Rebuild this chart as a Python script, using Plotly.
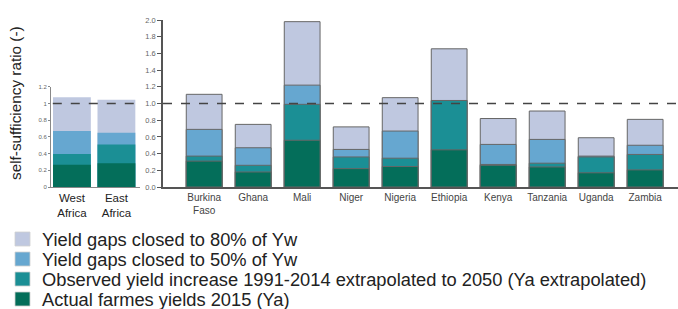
import plotly.graph_objects as go

# Regions (left panel)
regions = ["West<br>Africa", "East<br>Africa"]
reg_ya = [0.265, 0.285]
reg_ext = [0.395, 0.51]
reg_50 = [0.67, 0.65]
reg_80 = [1.075, 1.045]

# Countries (right panel)
countries = ["Burkina<br>Faso", "Ghana", "Mali", "Niger", "Nigeria",
             "Ethiopia", "Kenya", "Tanzania", "Uganda", "Zambia"]
cty_ya = [0.31, 0.18, 0.56, 0.22, 0.245, 0.445, 0.26, 0.24, 0.17, 0.205]
cty_ext = [0.37, 0.26, 0.99, 0.36, 0.345, 1.036, 0.27, 0.285, 0.36, 0.39]
cty_50 = [0.69, 0.47, 1.22, 0.45, 0.67, 1.036, 0.51, 0.57, 0.37, 0.50]
cty_80 = [1.11, 0.75, 1.98, 0.72, 1.07, 1.655, 0.82, 0.91, 0.59, 0.81]

names = ["Yield gaps closed to 80% of Yw",
         "Yield gaps closed to 50% of Yw",
         "Observed yield increase 1991-2014 extrapolated to 2050 (Ya extrapolated)",
         "Actual farmes yields 2015 (Ya)"]
colors = ["#bfc8e0", "#66a7d0", "#1b8f95", "#046e5a"]

fig = go.Figure()
reg_series = [reg_80, reg_50, reg_ext, reg_ya]
cty_series = [cty_80, cty_50, cty_ext, cty_ya]
for name, col, rv, cv in zip(names, colors, reg_series, cty_series):
    fig.add_trace(go.Bar(x=regions, y=rv, name=name, marker=dict(color=col, line=dict(width=0)),
                         width=0.85, xaxis="x", yaxis="y", showlegend=False))
    fig.add_trace(go.Bar(x=countries, y=cv, name=name,
                         marker=dict(color=col, line=dict(color="#666666", width=1)),
                         width=0.73, xaxis="x2", yaxis="y2", showlegend=False))

W, H = 678, 309
T, B = 20, 122
PH = H - T - B


def py(ypix):
    return (H - B - ypix) / PH


shapes = [
    dict(type="line", xref="x domain", yref="y", x0=0.02, x1=1, y0=1, y1=1,
         line=dict(color="#444", width=1.3, dash="dash")),
    dict(type="line", xref="x2 domain", yref="y2", x0=0, x1=1, y0=1, y1=1,
         line=dict(color="#444", width=1.3, dash="dash")),
]
annotations = [dict(text="self-sufficiency ratio (-)", xref="paper", yref="paper",
                    x=15 / W, y=py(103), xanchor="center", yanchor="middle",
                    textangle=-90, showarrow=False, font=dict(size=15.3, color="#222"))]

# manual legend
row_y = [239, 259, 279, 299]
for name, col, ry in zip(names, colors, row_y):
    shapes.append(dict(type="rect", xref="paper", yref="paper",
                       x0=15 / W, x1=30 / W, y0=py(ry + 7), y1=py(ry - 7),
                       fillcolor=col, line=dict(color="#d0d0d0", width=0.8), layer="above"))
    annotations.append(dict(text=name, xref="paper", yref="paper", x=40 / W, y=py(ry),
                            xanchor="left", yanchor="middle", showarrow=False,
                            font=dict(size=18.3, color="#222")))

fig.update_layout(
    width=W, height=H, barmode="overlay", showlegend=False,
    margin=dict(l=0, r=0, t=T, b=B, autoexpand=False),
    paper_bgcolor="white", plot_bgcolor="white",
    font=dict(family="Liberation Sans, Arial, sans-serif", color="#333"),
    xaxis=dict(domain=[51 / W, 140 / W], range=[-0.47, 1.53], showline=True,
               linecolor="#888", linewidth=1, ticks="", tickfont=dict(size=11.5, color="#222"),
               anchor="y", fixedrange=True),
    yaxis=dict(domain=[0, 0.6], range=[0, 1.2], tickvals=[0, 0.2, 0.4, 0.6, 0.8, 1, 1.2],
               ticktext=["0", "0.2", "0.4", "0.6", "0.8", "1", "1.2"],
               showline=True, linecolor="#888", linewidth=1, ticks="outside", ticklen=2,
               tickcolor="#888", tickfont=dict(size=6, color="#666"), showgrid=False,
               zeroline=False, anchor="x"),
    xaxis2=dict(domain=[163 / W, 1.0], range=[-0.84, 9.67], showline=True,
                linecolor="#555", linewidth=1.5, ticks="", tickfont=dict(size=10, color="#444"),
                anchor="y2"),
    yaxis2=dict(domain=[0, 1], range=[0, 2.0], dtick=0.2, tickformat=".1f",
                showline=True, linecolor="#555", linewidth=1.5, ticks="outside", ticklen=4,
                tickcolor="#555", tickfont=dict(size=7.5, color="#666"), showgrid=False,
                zeroline=False, anchor="x2"),
    shapes=shapes,
    annotations=annotations,
)

fig.write_html("out.html", config={"displayModeBar": False},
               post_script="document.body.style.margin='0';document.body.style.overflow='hidden';")
